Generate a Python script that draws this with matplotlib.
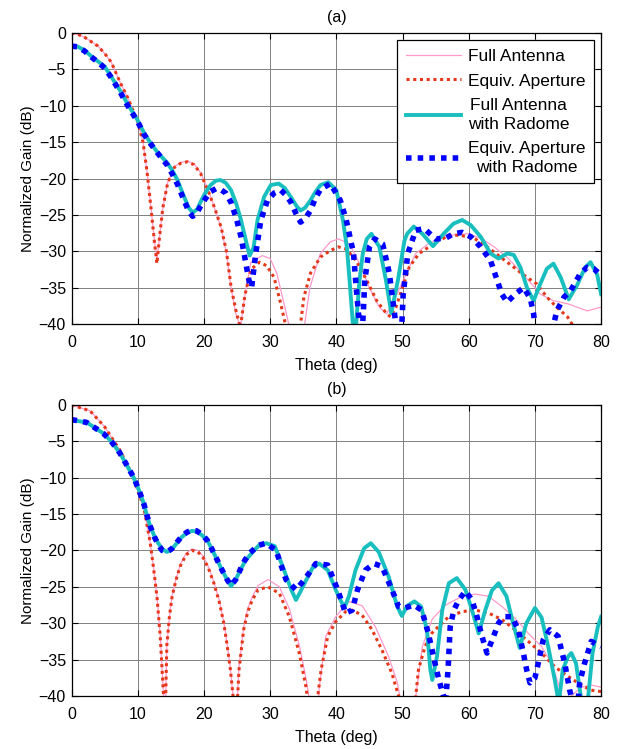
import matplotlib
matplotlib.use('Agg')
import matplotlib.pyplot as plt

plt.rcParams['font.family'] = ['Liberation Sans', 'DejaVu Sans']
plt.rcParams['font.size'] = 11

# ---------------- (a) ----------------
th_red_a = [0, 1, 2, 3, 4, 5, 6, 7.4, 8.5, 9, 10, 10.8, 11.4, 12, 12.5, 12.9, 13.3, 13.8, 14.5,
            15.5, 16.5, 17.5, 18.5, 19.5, 20.6, 21.6, 22.6, 23.4, 24.1, 24.8, 25.5, 26.2, 27.1,
            28.4, 29.5, 30.6, 31.6, 32.3, 33.5, 34.6, 35.1, 36.1, 37.6, 39.1, 40.3, 41.5, 43,
            44.6, 46.1, 47.6, 48.2, 49, 50, 51, 52.5, 54, 55.5, 57.2, 58.7, 60.8, 62.8, 64.8,
            66.8, 68.8, 70.3, 71.8, 73.3, 74.9, 75.6, 77]
red_a = [0, -0.2, -0.6, -1.2, -1.8, -2.8, -4, -6.9, -8.9, -10, -12.2, -15, -19, -24, -28.5, -31.7,
         -28, -24, -20.7, -18.5, -17.9, -17.7, -18.1, -19.3, -21.6, -24, -26.7, -30, -34.9, -38,
         -40.5, -36, -32.5, -31.5, -32, -33.6, -37.2, -40, -50, -40, -36.3, -33, -30.8, -29.9,
         -29.4, -29.7, -31.3, -34, -36.8, -38.6, -39, -37.7, -35, -32.2, -30.3, -29.4, -28.5,
         -27.8, -27.8, -28.2, -29.4, -30.8, -32.2, -33.6, -34.5, -36.3, -37.7, -39, -40, -42]

th_pink_a = [0, 1, 2, 3, 4, 5, 6, 7.4, 8.5, 9, 10, 10.8, 11.4, 12, 12.5, 12.9, 13.3, 13.8, 14.5,
             15.5, 16.5, 17.5, 18.5, 19.5, 20.6, 21.6, 22.6, 23.4, 24.1, 24.8, 25.5, 26.2, 27.1,
             28.8, 30, 31, 32.1, 32.8, 33.5, 35.3, 36, 37.6, 39.1, 40.3, 42, 43.5, 45, 46.5,
             47.6, 49, 50.6, 52, 54, 56, 58, 60, 62, 64, 66, 68, 70, 70.8, 72.8, 74.9, 76.4,
             77.9, 79.9]
pink_a = [0, -0.2, -0.6, -1.2, -1.8, -2.8, -4, -6.9, -8.9, -10, -12.2, -15, -19, -24, -28.3, -31.2,
          -28, -24, -20.6, -18.4, -17.8, -17.6, -18, -19.2, -21.5, -24, -26.8, -30.2, -35, -38.5,
          -40.5, -36, -31.5, -30.6, -31, -33, -37.2, -40, -50, -39.5, -35, -30.3, -28.7, -28.3,
          -29, -31.7, -35, -37.7, -38.6, -36.2, -33, -30.3, -28.9, -28.2, -27.7, -27.6, -28.3,
          -29.5, -31, -33, -35, -35.9, -36.8, -37.2, -37.7, -38.2, -37.7]

th_cyan_a = [0, 1, 2, 3, 4, 5, 6, 7.4, 8.5, 10, 11, 12, 13, 14.5, 15.3, 16, 17, 17.7, 18.3, 19,
             19.5, 20.2, 21, 21.8, 22.5, 23.3, 24.1, 24.9, 25.6, 26.3, 26.9, 27.5, 28.1, 29.1,
             30.1, 31.3, 32.2, 33.1, 34, 34.6, 35.3, 36.1, 36.8, 37.6, 38.8, 40, 41, 41.6, 42,
             42.5, 42.8, 43.1, 43.5, 44, 44.6, 45.3, 46.5, 47.5, 48.3, 49.3, 50.3, 50.7, 51.7,
             53, 54.6, 56.2, 57.7, 59, 60.3, 61.8, 63.3, 64.5, 65.8, 66.8, 67.8, 68.8, 69.8,
             70.8, 71.8, 72.8, 73.9, 75.1, 76.4, 77.6, 78.4, 79.4, 80]
cyan_a = [-1.8, -1.9, -2.4, -3.2, -3.9, -4.6, -6, -8, -9.8, -12, -13.8, -15.2, -16.4, -17.9, -19,
          -20.2, -22.5, -24, -24.7, -24.2, -23.2, -22, -20.9, -20.3, -20.2, -20.6, -21.6, -23.5,
          -25.7, -28.4, -30.6, -29.5, -25.7, -22.5, -20.9, -20.7, -21.3, -22.5, -23.8, -24.4,
          -24, -23, -21.9, -20.9, -20.5, -21.6, -25.7, -29.5, -34, -40, -43, -38.6, -34, -30.3,
          -28.3, -27.6, -29.4, -34, -38.5, -34, -28.5, -27.6, -26.6, -27.6, -29.3, -27.6, -26.2,
          -25.7, -26.4, -28, -30.3, -31, -30.3, -30.5, -32.2, -35, -36.8, -34.5, -32.4, -31.7,
          -33.6, -36.6, -34.6, -32.2, -31.5, -33.2, -35.9]

th_blue_a = [0, 1, 2, 3, 4, 5, 6, 7.4, 8.5, 10, 11, 12, 13, 14.5, 15.3, 16, 17, 17.7, 18.3, 19,
             19.5, 20.2, 21, 21.8, 22.5, 23.3, 24.1, 24.9, 25.6, 26.3, 26.9, 27.2, 27.8, 28.6,
             29.6, 30.6, 31.6, 32.3, 33.1, 34, 34.6, 35.3, 36.1, 36.8, 37.6, 39.1, 40.6, 41.5,
             42.6, 43, 43.5, 43.8, 44.1, 44.3, 45, 45.8, 47, 48, 48.8, 49.2, 49.8, 50.1, 50.8,
             52, 53.3, 55, 56.5, 57.7, 59, 60.3, 61.8, 63.3, 64.3, 65, 65.8, 67, 68.3, 69.3,
             69.8, 70.1, 72.6, 73.3, 74.4, 75.4, 76.9, 77.9, 78.9, 80]
blue_a = [-1.8, -1.9, -2.5, -3.3, -4, -4.8, -6.1, -8.2, -10, -12.2, -14, -15.3, -16.5, -18.2,
          -19.5, -20.8, -23, -24.5, -25.2, -24.6, -23.8, -22.8, -21.8, -21.4, -21.5, -22, -23.3,
          -25.5, -28, -31.5, -34.5, -35, -30.5, -25.7, -23, -22, -21.6, -22.2, -23.2, -25, -26,
          -25.5, -24.4, -22.8, -21.5, -20.7, -23, -25.7, -30.3, -35, -40, -43, -38, -34, -29.4,
          -28.3, -29, -33, -38.6, -42, -42, -35.9, -30.3, -27.1, -26.9, -28.3, -28.2, -27.6,
          -27.4, -28, -29.4, -31.3, -34, -35.9, -37, -35.9, -35, -36.5, -38.6, -41, -41, -38.2,
          -36.3, -35.4, -33, -32.2, -32.4, -33.3]

# ---------------- (b) ----------------
th_red_b = [0, 2.8, 5, 6, 7.3, 8.3, 9.3, 10.1, 10.9, 11.4, 11.9, 12.4, 12.9, 13.4, 13.9, 14.1,
            14.4, 14.8, 15.2, 15.8, 16.4, 17.3, 18.2, 19.1, 19.9, 20.7, 21.5, 22.3, 23, 23.5, 24,
            24.4, 24.8, 25.3, 26, 26.6, 27.3, 28.2, 29.7, 31.4, 32.9, 34.4, 35.4, 35.9, 36.6,
            37.2, 37.7, 38.7, 39.9, 41.4, 42.4, 43.9, 45.4, 46.9, 48.4, 49.4, 50.5, 51.9, 52.4,
            53.4, 54.4, 55.7, 57, 59, 61, 63, 65, 67, 69, 71, 73, 75, 77, 78.5, 80]
red_b = [0, -0.8, -3, -4.4, -6.2, -8, -9.8, -12, -14, -16.5, -19, -22.5, -26.3, -31.8, -40, -45,
         -33, -29, -26.3, -24, -22.2, -20.6, -20, -20.2, -21, -22.5, -24.5, -27, -30, -33, -36.4,
         -40, -45, -36.4, -30.9, -28.5, -26.8, -25.4, -25, -25.9, -29.1, -34.1, -38.7, -42, -45,
         -40, -36.4, -31.8, -29.8, -28.4, -28.2, -28.9, -30.9, -33.7, -36.9, -40, -45, -41,
         -36.4, -33.2, -31.4, -30.2, -29.1, -28.4, -28.2, -28.6, -29.5, -30.9, -32.5, -34.1,
         -36, -37.3, -38.5, -39.2, -39.4]

th_pink_b = [0, 2.8, 5, 6, 7.3, 8.3, 9.3, 10.1, 10.9, 11.4, 11.9, 12.4, 12.9, 13.4, 13.9, 14.1,
             14.4, 14.8, 15.2, 15.8, 16.4, 17.3, 18.2, 19.1, 19.9, 20.7, 21.5, 22.3, 23, 23.5, 24,
             24.4, 24.8, 25.3, 26, 26.6, 27.3, 28.2, 29.7, 31.4, 32.9, 34.4, 35.5, 36.2, 37,
             37.4, 38.4, 39.9, 41.9, 43.9, 45.9, 47.9, 49.2, 49.8, 51, 52, 53, 54.5, 56.5, 59,
             61, 63, 65, 67, 69, 71, 72.5, 73.5, 74, 74.7, 75.5, 77, 78.5, 80]
pink_b = [0, -0.8, -3, -4.4, -6.2, -8, -9.8, -12, -14, -16.5, -19, -22.4, -26.2, -31.6, -40, -45,
          -33, -29, -26.2, -23.9, -22, -20.4, -19.8, -20, -20.8, -22.3, -24.3, -26.8, -29.8,
          -32.8, -36.2, -40, -45, -36, -30.6, -28, -26.4, -24.8, -24, -25, -28, -33, -38, -42,
          -45, -39, -31.8, -29.1, -27, -27.6, -30.5, -34.6, -38.1, -41, -45, -40, -33.2, -29.4,
          -27.5, -26.3, -26, -26.3, -27.7, -29.3, -31.4, -33.2, -35.5, -38.2, -40, -42, -40,
          -38.8, -38.5, -38.8]

th_cyan_b = [0, 2.3, 4.8, 6, 7.3, 8.3, 9.3, 10.1, 10.9, 11.4, 11.9, 12.5, 13.1, 13.7, 14.4, 15.1,
             15.9, 16.6, 17.4, 18.2, 18.9, 19.7, 20.5, 21.2, 22, 22.8, 23.5, 24.1, 24.8, 25.5,
             26.2, 27, 28.4, 29.4, 30.7, 31.9, 33.2, 33.9, 34.5, 35.2, 36.4, 37.4, 38.7, 39.9,
             41.2, 41.9, 42.9, 44.2, 45.2, 46.4, 47.9, 49.2, 49.9, 50.7, 51.8, 52.8, 53.7, 54.2,
             54.5, 55.2, 56, 57, 58.2, 59.5, 60.5, 61.5, 62.5, 63.5, 64.5, 65.7, 66.7, 67.7, 68.7,
             70, 71, 72, 73, 73.6, 74.2, 75, 75.5, 76.2, 77, 77.5, 78, 78.7, 79.5, 80]
cyan_b = [-2.06, -2.4, -3.9, -5, -6.6, -8.2, -9.8, -11.5, -13.5, -15.2, -16.7, -18, -19, -19.8,
          -20.2, -19.9, -19, -18.2, -17.6, -17.3, -17.4, -17.9, -18.6, -19.8, -21.3, -22.8, -24,
          -24.9, -24, -22.7, -21.5, -20.6, -19.2, -19, -19.4, -22.2, -25.4, -26.8, -25.8, -24.5,
          -22.4, -21.8, -22.7, -25.4, -27.9, -26.3, -22.7, -19.7, -19, -20.2, -23.6, -27.7, -29,
          -27.6, -27, -27.7, -31, -36.4, -37.8, -34.6, -28.2, -24.5, -23.8, -25.4, -28.2, -31.4,
          -28.2, -25.5, -24.5, -26.3, -30, -33.4, -30, -27.9, -29.2, -33.2, -37.8, -41, -36.4,
          -34.6, -34.1, -35.5, -40.5, -43, -40.5, -34.1, -30.5, -29.1]

th_blue_b = [0, 2.3, 4.8, 6, 7.3, 8.3, 9.3, 10.1, 10.9, 11.4, 11.9, 12.5, 13.1, 13.7, 14.4, 15.1,
             15.9, 16.6, 17.4, 18.2, 18.9, 19.7, 20.5, 21.2, 22, 22.8, 23.5, 24.1, 24.8, 25.5,
             26.2, 27, 28.2, 29.4, 30.9, 32.4, 33.9, 35.2, 36.9, 38.7, 40.2, 41.4, 42.4, 43.2,
             44.4, 45.7, 46.9, 48.4, 49.4, 50.4, 51.7, 52.9, 53.9, 54.9, 55.5, 56, 56.5, 56.9,
             57.2, 57.75, 58.5, 59.5, 60.5, 61.25, 62, 62.75, 63.75, 64.5, 65.25, 66.5, 67.5,
             68.25, 68.75, 69.25, 70, 70.5, 71.25, 72.25, 73.5, 74.5, 75.25, 75.75, 76.5, 76.75,
             77.5, 78.5, 79.5, 80]
blue_b = [-2.0, -2.4, -3.9, -5, -6.6, -8.2, -9.8, -11.5, -13.5, -15.2, -16.7, -18.1, -19.2, -20,
          -20.2, -19.8, -18.9, -18.1, -17.5, -17.2, -17.3, -17.8, -18.6, -19.8, -21.3, -22.8, -24,
          -24.8, -24, -22.6, -21.3, -20.3, -19.3, -19, -20, -24, -25.4, -24, -21.8, -22, -25.4,
          -28.6, -28.2, -25.4, -22.7, -21.8, -22.2, -25.4, -27.7, -27.9, -27.5, -28.2, -31.4,
          -35.5, -37.8, -39.4, -41, -36, -30.5, -28.2, -26.8, -25.6, -26.8, -29.1, -31.8, -34.1,
          -31.8, -30, -29.1, -29.1, -30.9, -34.1, -36.4, -38.2, -37.5, -35.5, -32.3, -30.9,
          -31.8, -35.5, -39.2, -41, -41, -38.2, -35.5, -32.5, -33, -33.2]

labels = ['Full Antenna', 'Equiv. Aperture', 'Full Antenna\nwith Radome',
          'Equiv. Aperture\nwith Radome']

c_pink = '#ff99cc'
c_red = '#e5381a'
c_cyan = '#19bfbf'
c_blue = '#0000ff'

fig = plt.figure(figsize=(6.29, 7.49), dpi=100)
ax1 = fig.add_axes([0.1137, 0.5674, 0.842, 0.3885])
ax2 = fig.add_axes([0.1137, 0.0708, 0.842, 0.3885])


def draw(ax, data, title):
    (tp, p), (tr, r), (tc, c), (tb, b) = data
    ax.plot(tp, p, color=c_pink, lw=0.9, label=labels[0])
    ax.plot(tr, r, color=c_red, lw=2.2, dashes=(1, 1.2), label=labels[1])
    ax.plot(tc, c, color=c_cyan, lw=2.8, label=labels[2])
    ax.plot(tb, b, color=c_blue, lw=4, dashes=(1, 1.1), dash_capstyle='butt', label=labels[3])
    ax.set_xlim(0, 80)
    ax.set_ylim(-40, 0)
    ax.set_xticks(range(0, 81, 10))
    ax.set_yticks(range(-40, 1, 5))
    ax.grid(True, color='#808080', lw=0.7)
    ax.tick_params(direction='in', top=True, right=True, length=4, labelsize=11.5)
    ax.tick_params(axis='x', pad=8)
    ax.tick_params(axis='y', pad=4)
    ax.set_xlabel('Theta (deg)', fontsize=11.5, labelpad=6)
    ax.set_ylabel('Normalized Gain (dB)', fontsize=11, labelpad=3)
    ax.set_title(title, fontsize=11.5, pad=8)
    for s in ax.spines.values():
        s.set_linewidth(0.9)


draw(ax1, [(th_pink_a, pink_a), (th_red_a, red_a), (th_cyan_a, cyan_a), (th_blue_a, blue_a)], '(a)')
draw(ax2, [(th_pink_b, pink_b), (th_red_b, red_b), (th_cyan_b, cyan_b), (th_blue_b, blue_b)], '(b)')

leg = ax1.legend(loc='upper right', fancybox=False, edgecolor='black', framealpha=1,
                 fontsize=12.5, handlelength=3.2, labelspacing=0.55, borderaxespad=0.4,
                 handletextpad=0.4, borderpad=0.5)
leg.get_frame().set_linewidth(0.9)
for t in leg.get_texts():
    t.set_multialignment('center')
    t.set_linespacing(1.3)

fig.savefig('out.png', dpi=100)
